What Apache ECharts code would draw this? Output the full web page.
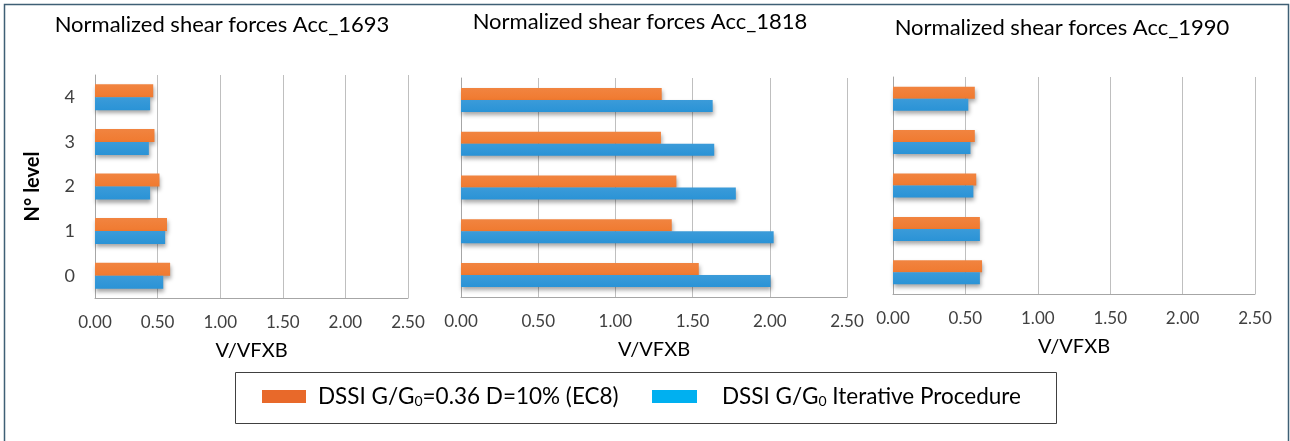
<!DOCTYPE html>
<html>
<head>
<meta charset="utf-8">
<script src="https://cdn.jsdelivr.net/npm/echarts@6/dist/echarts.min.js"></script>
<style>
  html, body { margin: 0; padding: 0; background: #fff; }
  #chart { width: 1290px; height: 441px; }
</style>
</head>
<body>
<div id="chart"></div>
<script>
  // data
  const levels = ['0', '1', '2', '3', '4']
  const titles = ['Normalized shear forces Acc_1693', 'Normalized shear forces Acc_1818', 'Normalized shear forces Acc_1990']
  const seriesNames = ['DSSI G/G0=0.36 D=10% (EC8)', 'DSSI G/G0 Iterative Procedure']

  const ec8_1693 = [0.60, 0.575, 0.515, 0.475, 0.465]
  const iter_1693 = [0.545, 0.56, 0.44, 0.43, 0.44]
  const ec8_1818 = [1.54, 1.365, 1.395, 1.295, 1.30]
  const iter_1818 = [2.005, 2.025, 1.78, 1.64, 1.63]
  const ec8_1990 = [0.615, 0.60, 0.575, 0.565, 0.565]
  const iter_1990 = [0.60, 0.60, 0.555, 0.535, 0.52]

  const xTicks = { min: 0, max: 2.5, interval: 0.5 }

  const ec8Data = [ec8_1693, ec8_1818, ec8_1990]
  const iterData = [iter_1693, iter_1818, iter_1990]

  const orange = '#F07A30'
  const blue = '#2A93D6'
  const font = 'Lato, "Open Sans", sans-serif'

  const grids = [
    { left: 95, top: 75, width: 313, height: 223 },
    { left: 461, top: 78, width: 386, height: 219 },
    { left: 893, top: 77, width: 362, height: 217 }
  ]
  const titlePos = [
    { left: 217, top: 9 },
    { left: 635, top: 6 },
    { left: 1057, top: 12 }
  ]

  const chart = echarts.init(document.getElementById('chart'))

  function barSeries(name, data, idx, color) {
    return {
      name: name,
      type: 'bar',
      xAxisIndex: idx,
      yAxisIndex: idx,
      data: data,
      barWidth: idx === 0 ? 13 : 12,
      barGap: '0%',
      itemStyle: {
        color: new echarts.graphic.LinearGradient(0, 0, 0, 1, [
          { offset: 0, color: echarts.color.lift(color, 0.08) },
          { offset: 1, color: color }
        ]),
        shadowColor: 'rgba(0,0,0,0.35)',
        shadowBlur: 4,
        shadowOffsetY: 3,
        shadowOffsetX: 1
      },
      animation: false
    }
  }

  const series = []
  for (let i = 0; i < 3; i++) {
    series.push(barSeries(seriesNames[0], ec8Data[i], i, orange))
    series.push(barSeries(seriesNames[1], iterData[i], i, blue))
  }

  const legendText = {
    fontFamily: font,
    fontSize: 22.5,
    color: '#000',
    rich: {
      t: { fontFamily: font, fontSize: 22.5, color: '#000' },
      s: { fontFamily: font, fontSize: 14, color: '#000', verticalAlign: 'bottom', padding: [7, 0, 0, 0] }
    }
  }
  const fmt = name => name.replace('G/G0', '{t|G/G}{s|0}').replace(/^DSSI /, '{t|DSSI }')

  const option = {
    backgroundColor: '#fff',
    animation: false,
    title: titles.map((t, i) => ({
      text: t,
      left: titlePos[i].left,
      top: titlePos[i].top,
      textAlign: 'center',
      textStyle: { fontFamily: font, fontSize: 22, fontWeight: 'normal', color: '#000' }
    })),
    grid: grids,
    xAxis: grids.map((g, i) => ({
      type: 'value',
      gridIndex: i,
      min: xTicks.min,
      max: xTicks.max,
      interval: xTicks.interval,
      name: 'V/VFXB',
      nameLocation: 'middle',
      nameGap: 43,
      nameTextStyle: { fontFamily: font, fontSize: 20, color: '#000' },
      axisLine: { show: true, lineStyle: { color: '#a6a6a6' } },
      axisTick: { show: false },
      splitLine: { show: true, lineStyle: { color: '#bfbfbf' } },
      axisLabel: {
        margin: 16,
        fontFamily: font,
        fontSize: 17,
        color: '#404040',
        formatter: v => v.toFixed(2)
      }
    })),
    yAxis: grids.map((g, i) => ({
      type: 'category',
      gridIndex: i,
      data: levels,
      name: i === 0 ? 'N° level' : '',
      nameLocation: 'middle',
      nameGap: 52,
      nameRotate: 90,
      nameTextStyle: { fontFamily: font, fontSize: 20, fontWeight: 'bold', color: '#000' },
      axisLine: { show: true, lineStyle: { color: '#a6a6a6' } },
      axisTick: { show: false },
      axisLabel: { show: i === 0, margin: 20, fontFamily: font, fontSize: 18, color: '#404040' }
    })),
    legend: [
      {
        data: [{ name: seriesNames[0], itemStyle: { color: '#E8692A', shadowBlur: 0, shadowOffsetX: 0, shadowOffsetY: 0 } }],
        left: 257,
        top: 380,
        icon: 'rect',
        itemWidth: 44,
        itemHeight: 13,
        formatter: fmt,
        textStyle: Object.assign({ padding: [0, 0, 0, 7] }, legendText)
      },
      {
        data: [{ name: seriesNames[1], itemStyle: { color: '#00B0F0', shadowBlur: 0, shadowOffsetX: 0, shadowOffsetY: 0 } }],
        left: 647,
        top: 380,
        icon: 'rect',
        itemWidth: 45,
        itemHeight: 13,
        formatter: fmt,
        textStyle: Object.assign({ padding: [0, 0, 0, 20] }, legendText)
      }
    ],
    graphic: [
      {
        type: 'rect',
        shape: { x: 4.5, y: 4.5, width: 1284, height: 460 },
        style: { fill: 'none', stroke: '#3f5f75', lineWidth: 1.5 },
        silent: true
      },
      {
        type: 'rect',
        shape: { x: 235.5, y: 372.5, width: 821, height: 51 },
        style: { fill: 'none', stroke: '#404040', lineWidth: 1 },
        silent: true
      }
    ],
    series: series
  }

  chart.setOption(option)
</script>
</body>
</html>
